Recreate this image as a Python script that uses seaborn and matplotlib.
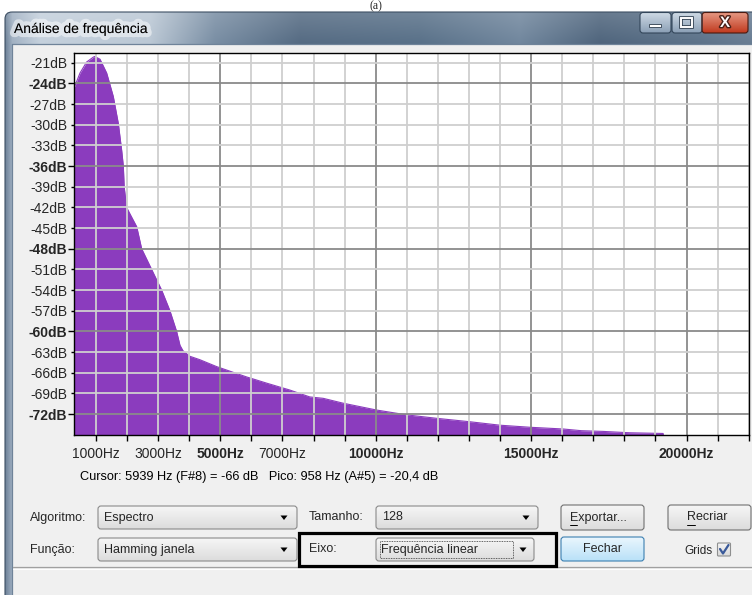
import numpy as np
import matplotlib
matplotlib.use("Agg")
import matplotlib.pyplot as plt
import matplotlib.colors as mcolors
import seaborn as sns
import pandas as pd
from matplotlib.patches import Rectangle, FancyBboxPatch, Polygon
from matplotlib.ticker import FixedLocator, FuncFormatter
import matplotlib.patheffects as pe

# ---------------- data ----------------
freq_hz = [293, 486, 700, 913, 958, 1130, 1344, 1557, 1718, 1826, 1880, 1907, 1985,
           2100, 2310, 2470, 2791, 3113, 3380, 3595, 3702, 3799, 4020, 4343, 4882,
           5847, 6491, 7237, 7880, 8309, 8943, 10027, 10994, 11958, 13030, 13995,
           14960, 16031, 16623, 17308, 18177, 19248, 19300, 22050]
level_db = [-24.7, -22.5, -20.9, -20.2, -20.1, -20.5, -22.5, -25.9, -29.8, -33.7, -36.0, -39.0, -42.0,
            -43.0, -44.8, -48.0, -51.0, -54.0, -57.0, -60.0, -62.0, -62.8, -63.6, -64.1, -65.1,
            -66.6, -67.5, -68.5, -69.5, -69.7, -70.4, -71.4, -72.1, -72.6, -73.1, -73.6,
            -73.9, -74.15, -74.4, -74.5, -74.7, -74.8, -80.0, -80.0]

db_ticks_bold = [-24, -36, -48, -60, -72]
db_ticks_normal = [-21, -27, -30, -33, -39, -42, -45, -51, -54, -57, -63, -66, -69]
hz_ticks_bold = [5000, 10000, 15000, 20000]
hz_ticks_minor = [1000, 2000, 3000, 4000, 6000, 7000, 8000, 9000, 11000, 12000, 13000,
                  14000, 16000, 17000, 18000, 19000, 21000, 22000]
hz_labels_minor = [1000, 3000, 7000]

window_title = "Análise de frequência"
status_text = "Cursor: 5939 Hz (F#8) = -66 dB   Pico: 958 Hz (A#5) = -20,4 dB"
caption = "(a)"

# ---------------- style ----------------
sns.set_style("white")
plt.rcParams['font.family'] = ['Liberation Sans', 'DejaVu Sans']

W, H = 752, 595
PURPLE = "#8B3CBE"
fig = plt.figure(figsize=(W / 100, H / 100), dpi=100)
fig.patch.set_facecolor("white")

bg = fig.add_axes([0, 0, 1, 1])
bg.axis("off")


def rgb(c):
    return np.array(mcolors.to_rgb(c))


def vgrad(x0, y0, x1, y1, ctop, cbot, clip=None, z=1):
    t = np.linspace(0, 1, 64)[:, None]
    arr = rgb(ctop)[None, :] * (1 - t) + rgb(cbot)[None, :] * t
    im = bg.imshow(arr[:, None, :], extent=(x0, x1, y1, y0), aspect="auto",
                   interpolation="bilinear", zorder=z)
    if clip is not None:
        im.set_clip_path(clip)
    return im


def rbox(x0, y0, x1, y1, r=3, **kw):
    return FancyBboxPatch((x0, y0), x1 - x0, y1 - y0,
                          boxstyle=f"round,pad=0,rounding_size={r}",
                          transform=bg.transData, **kw)


def widget(x0, y0, x1, y1, ctop, cbot, edge, r=3, z=4):
    clip = rbox(x0, y0, x1, y1, r=r, fc="none", ec="none")
    vgrad(x0, y0, x1, y1, ctop, cbot, clip=clip, z=z)
    bg.add_patch(rbox(x0, y0, x1, y1, r=r, fc="none", ec=edge, lw=0.8, zorder=z + 0.5))


def arrow(xc, yc, z=6):
    bg.add_patch(Polygon([[xc - 3.5, yc - 2], [xc + 3.5, yc - 2], [xc, yc + 2.5]],
                         closed=True, fc="black", ec="none", zorder=z))


# ---------------- window frame ----------------
frame = rbox(5, 12, 770, 620, r=7, fc="none", ec="#3d4f63", lw=0.8, zorder=2.5)
stops_x = [5, 12, 40, 150, 215, 300, 420, 520, 600, 700, 752]
stops_c = [(110, 130, 152), (160, 176, 194), (196, 208, 220), (186, 199, 212),
           (120, 141, 163), (84, 106, 130), (88, 112, 136), (112, 134, 157),
           (78, 100, 124), (92, 114, 137), (104, 124, 146)]
xs = np.arange(5, 753)
cols = np.stack([np.interp(xs, stops_x, [c[i] for c in stops_c]) for i in range(3)], axis=1) / 255
ys = np.arange(12, 596)
vf = np.clip((44 - ys) / 32.0, 0, 1)[:, None, None] * 0.15
img = np.clip(cols[None, :, :] * (1 - vf) + vf, 0, 1)
im = bg.imshow(img, extent=(5, 752, 595, 12), aspect="auto", interpolation="bilinear", zorder=2)
im.set_clip_path(frame)
bg.add_patch(frame)

# title text
bg.text(14, 29, window_title, fontsize=10, color="black", va="center", ha="left", zorder=5,
        path_effects=[pe.withStroke(linewidth=6, foreground=(1, 1, 1, 0.5))])

# caption buttons
widget(640, 12.5, 671, 33, "#d0dbe6", "#8a9fb5", "#33465a", r=3, z=4)
widget(672, 12.5, 702, 33, "#d0dbe6", "#8a9fb5", "#33465a", r=3, z=4)
widget(702, 12.5, 748, 33, "#e79a85", "#c0391e", "#4a1a10", r=3, z=4)
bg.add_patch(Rectangle((649, 24), 12, 3, fc="white", ec="#2e3d4d", lw=0.6, zorder=6))
bg.add_patch(Rectangle((681, 18), 11, 9, fc="none", ec="#2e3d4d", lw=2.6, zorder=6))
bg.add_patch(Rectangle((681, 18), 11, 9, fc="none", ec="white", lw=1.4, zorder=6.1))
bg.text(725, 23, "X", fontsize=11, fontweight="bold", color="white", ha="center", va="center",
        zorder=7, path_effects=[pe.withStroke(linewidth=2, foreground="#4a2018")])

# client area
bg.add_patch(Rectangle((12, 44), 760, 560, fc="#f0f0f0", ec="none", zorder=3))
bg.plot([12, 752], [44, 44], color="#6f8399", lw=0.9, zorder=3.2)
bg.plot([12, 12], [44, 595], color="#6f8399", lw=0.9, zorder=3.2)

# status bar
bg.plot([13, 752], [567, 567], color="#a0a0a0", lw=0.9, zorder=3.5)
bg.plot([13, 752], [568.5, 568.5], color="#ffffff", lw=0.7, zorder=3.5)

# cursor/peak info
bg.text(80, 477, status_text, fontsize=9.2, color="black", ha="left", va="center", zorder=5)

# ---------------- controls ----------------
UI = 9
CT, CB, CE = "#f6f6f6", "#dcdcdc", "#8a8a8a"
# row 1
bg.text(30, 517.5, "Algoritmo:", fontsize=UI, va="center", zorder=6)
widget(98, 506, 297, 529, CT, CB, CE)
bg.text(104, 517.5, "Espectro", fontsize=UI, va="center", zorder=6)
arrow(284, 517.5)
bg.text(309, 517.5, "Tamanho:", fontsize=UI, va="center", zorder=6)
widget(376, 506, 538, 529, CT, CB, CE)
bg.text(382, 517.5, "128", fontsize=UI, va="center", zorder=6)
arrow(526, 517.5)
widget(561, 505, 644, 530, CT, CB, "#707070")
bg.text(570, 517.5, "Exportar...", fontsize=UI, va="center", zorder=6)
bg.plot([570, 577], [524.5, 524.5], color="black", lw=0.7, zorder=6)
widget(668, 505, 751, 530, CT, CB, "#707070")
bg.text(687, 517.5, "Recriar", fontsize=UI, va="center", zorder=6)
bg.plot([687, 695], [524.5, 524.5], color="black", lw=0.7, zorder=6)
# row 2
bg.text(30, 549.5, "Função:", fontsize=UI, va="center", zorder=6)
widget(98, 538, 297, 561, CT, CB, CE)
bg.text(104, 549.5, "Hamming janela", fontsize=UI, va="center", zorder=6)
arrow(284, 549.5)
bg.text(309, 549.5, "Eixo:", fontsize=UI, va="center", zorder=6)
widget(376, 538, 534, 561, CT, CB, CE)
bg.add_patch(Rectangle((379.5, 541), 133, 17, fc="none", ec="#333333", lw=0.6,
                       ls=(0, (1, 1)), zorder=6))
bg.text(381, 549.5, "Frequência linear", fontsize=UI, va="center", zorder=6)
arrow(523, 549.5)
widget(561, 537, 644, 561, "#eaf6fd", "#b9e1f8", "#3c7fb1")
bg.text(602.5, 549.5, "Fechar", fontsize=UI, ha="center", va="center", zorder=6)
bg.text(684, 550.5, "Grids", fontsize=8.5, va="center", zorder=6)
widget(717.5, 543, 730.5, 556, "#f4f4f4", "#dadada", "#8e8f8f", r=1)
bg.plot([720, 723, 728.5], [549, 553.5, 545], color="#3a5a9a", lw=1.6, zorder=7,
        solid_capstyle="round")
# black highlight box
bg.add_patch(Rectangle((298.5, 532.5), 257, 33.5, fc="none", ec="black", lw=2.3, zorder=8))

# caption above window
bg.text(376, 6, caption, fontsize=8.5, family=["Liberation Serif", "DejaVu Serif"],
        ha="center", va="center", zorder=9)

bg.set_xlim(0, W)
bg.set_ylim(H, 0)

# ---------------- spectrum plot ----------------
L, R, T, B = 74, 749.3, 53.3, 434.5
ax = fig.add_axes([L / W, 1 - B / H, (R - L) / W, (B - T) / H])
ax.set_facecolor("white")
df = pd.DataFrame({"freq": freq_hz, "db": level_db})
ax.fill_between(df["freq"], df["db"], -90, color=PURPLE, lw=0, zorder=1)
sns.lineplot(data=df, x="freq", y="db", color=PURPLE, lw=0.8, ax=ax, zorder=1.5)
ax.set_xlim(293, 22020)
ax.set_ylim(-74.95, -19.64)
ax.set_xlabel("")
ax.set_ylabel("")

ax.xaxis.set_major_locator(FixedLocator(hz_ticks_bold))
ax.xaxis.set_minor_locator(FixedLocator(hz_ticks_minor))
ax.xaxis.set_major_formatter(FuncFormatter(lambda v, p: f"{int(round(v))}Hz"))
ax.xaxis.set_minor_formatter(FuncFormatter(
    lambda v, p: f"{int(round(v))}Hz" if int(round(v)) in hz_labels_minor else ""))
ax.yaxis.set_major_locator(FixedLocator(db_ticks_bold))
ax.yaxis.set_minor_locator(FixedLocator(db_ticks_normal))
ax.yaxis.set_major_formatter(FuncFormatter(lambda v, p: f"{int(round(v))}dB"))
ax.yaxis.set_minor_formatter(FuncFormatter(lambda v, p: f"{int(round(v))}dB"))

ax.tick_params(axis="x", which="major", length=4, width=1, pad=5, labelsize=10,
               direction="out", color="black", bottom=True)
ax.tick_params(axis="x", which="minor", length=4, width=1, pad=5, labelsize=10,
               direction="out", color="black", bottom=True)
ax.tick_params(axis="y", which="major", length=4, width=1, pad=1, labelsize=10,
               direction="out", color="black", left=True)
ax.tick_params(axis="y", which="minor", length=2.5, width=1, pad=2.5, labelsize=10,
               direction="out", color="black", left=True)
for t in ax.xaxis.get_majorticklabels() + ax.yaxis.get_majorticklabels():
    t.set_fontweight("bold")

ax.grid(True, which="major", color="#8a8a8a", lw=1.3)
ax.grid(True, which="minor", color="#cfcfcf", lw=1.3)
ax.set_axisbelow(False)
for s in ax.spines.values():
    s.set_visible(True)
    s.set_color("black")
    s.set_linewidth(1.0)
    s.set_zorder(4)

fig.savefig("out.png", dpi=100, facecolor="white")
